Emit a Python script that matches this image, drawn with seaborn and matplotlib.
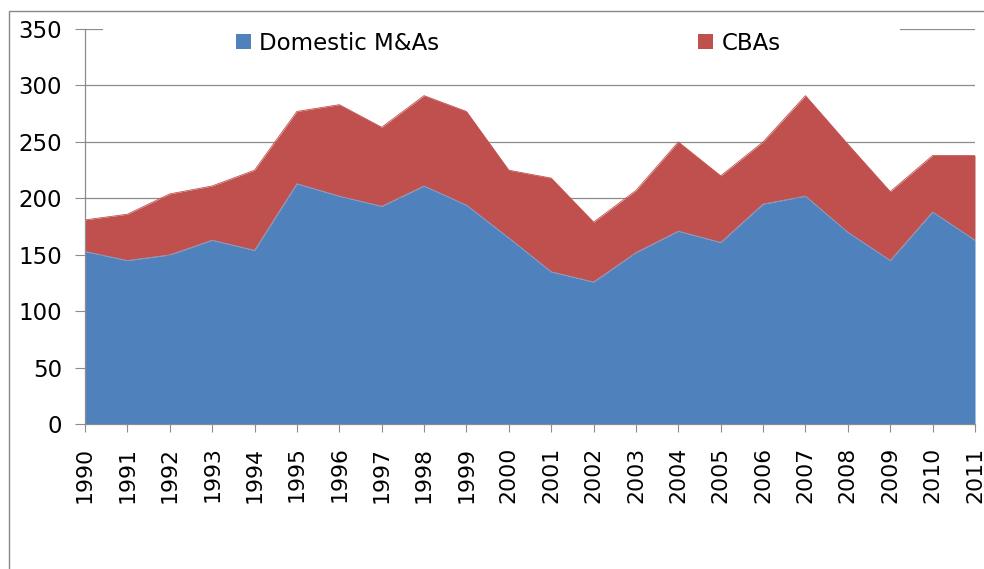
import pandas as pd
import seaborn as sns
import matplotlib.pyplot as plt
from matplotlib.patches import Patch, Rectangle

years = list(range(1990, 2012))
domestic = [153, 145, 150, 163, 154, 213, 202, 193, 211, 194, 165,
            135, 126, 152, 171, 161, 195, 202, 170, 145, 188, 163]
cbas = [28, 41, 54, 48, 71, 64, 81, 70, 80, 83, 60,
        83, 53, 55, 79, 59, 55, 89, 78, 61, 50, 75]
series_names = ["Domestic M&As", "CBAs"]
colors = ["#4F81BD", "#C0504D"]
grid_color = "#8C8C8C"

sns.set_style("white")
plt.rcParams["font.family"] = ["DejaVu Sans"]
plt.rcParams["text.color"] = "black"
plt.rcParams["xtick.labelcolor"] = "black"
plt.rcParams["ytick.labelcolor"] = "black"

df = pd.DataFrame({"year": years, "Domestic M&As": domestic, "CBAs": cbas})
df["total"] = df["Domestic M&As"] + df["CBAs"]

fig = plt.figure(figsize=(9.84, 5.69), dpi=100)
ax = fig.add_axes([85 / 984, 1 - 424.3 / 569, 890 / 984, 395.3 / 569])

ax.stackplot(df["year"], df["Domestic M&As"], df["CBAs"], colors=colors, linewidth=0)
# thin edges on top of each band
sns.lineplot(x="year", y="Domestic M&As", data=df, ax=ax, color="#7FA3D3", linewidth=0.6)
sns.lineplot(x="year", y="total", data=df, ax=ax, color=colors[1], linewidth=0.6)

ax.set_xlim(years[0], years[-1])
ax.set_ylim(0, 350)
ax.set_yticks(range(0, 351, 50))
ax.set_xticks(years)
ax.set_xticklabels([str(y) for y in years], rotation=90, fontsize=15.8, color="black")
ax.set_xlabel("")
ax.set_ylabel("")
ax.tick_params(axis="y", labelsize=16.5, length=7.5, width=0.8, color=grid_color, pad=9, direction="out", left=True)
ax.tick_params(axis="x", length=6, width=0.8, color=grid_color, pad=10, direction="out", bottom=True)

ax.set_axisbelow(True)
ax.yaxis.grid(True, color=grid_color, linewidth=0.9)
ax.xaxis.grid(False)
for side in ["top", "right"]:
    ax.spines[side].set_visible(False)
for side in ["left", "bottom"]:
    ax.spines[side].set_color(grid_color)
    ax.spines[side].set_linewidth(0.9)

# legend background hides the top gridline behind it
ax.add_patch(Rectangle((0.0202, 0.975), 0.8955, 0.06, transform=ax.transAxes,
                       facecolor="white", edgecolor="none", clip_on=False, zorder=1))

handles = [Patch(facecolor=c, edgecolor="none") for c in colors]
fig.legend(handles, series_names, loc="center left", bbox_to_anchor=(236 / 984, 1 - 43 / 569),
           ncol=2, frameon=False, fontsize=16.5, handlelength=0.66, handleheight=0.66,
           handletextpad=0.35, columnspacing=11.3, borderpad=0, borderaxespad=0)

# outer chart border
fig.patches.append(Rectangle((8.5 / 984, -0.1), 1.2, 1.1 - 10.7 / 569, transform=fig.transFigure,
                             facecolor="none", edgecolor="#888888", linewidth=1.0))

fig.savefig("out.png", dpi=100)
